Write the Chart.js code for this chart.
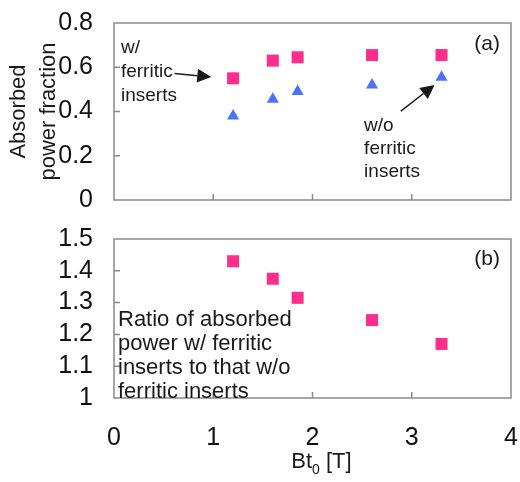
<!DOCTYPE html>
<html>
<head>
<meta charset="utf-8">
<script src="https://cdn.jsdelivr.net/npm/chart.js@4.4.1/dist/chart.umd.min.js"></script>
<style>
  body { margin: 0; background: #fff; }
  #wrap { position: relative; width: 520px; height: 482px; }
  canvas { position: absolute; left: 0; }
</style>
</head>
<body>
<div id="wrap">
  <canvas id="top" width="520" height="210" style="top:0"></canvas>
  <canvas id="bottom" width="520" height="272" style="top:210px"></canvas>
</div>
<script>
// Bt0 [T]
const bt = [1.2, 1.6, 1.85, 2.6, 3.3];
// absorbed power fraction
const withFerritic = [0.55, 0.63, 0.645, 0.655, 0.655];
const withoutFerritic = [0.38, 0.455, 0.49, 0.52, 0.555];
// ratio w/ to w/o
const ratio = [1.43, 1.375, 1.315, 1.245, 1.17];

const xTicks = [0, 1, 2, 3, 4];
const fracTicks = [0, 0.2, 0.4, 0.6, 0.8];
const ratioTicks = [1, 1.1, 1.2, 1.3, 1.4, 1.5];

const pink = '#ff2d8c';
const blue = '#4d70ff';
const frame = '#8a8a8a';
const tickFont = { family: "'Liberation Sans Narrow', 'Liberation Sans', Arial", size: 25 };
const textFont = "'Liberation Sans', Arial, sans-serif";

function pts(xs, ys) {
    return xs.map((x, i) => ({ x: x, y: ys[i] }));
}

// frame box + short inward tick marks
const framePlugin = {
    id: 'frame',
    afterDraw(chart) {
        const ctx = chart.ctx;
        const a = chart.chartArea;
        const xs = chart.scales.x, ys = chart.scales.y;
        ctx.save();
        ctx.strokeStyle = frame;
        ctx.lineWidth = 1.5;
        ctx.strokeRect(a.left, a.top, a.right - a.left, a.bottom - a.top);
        ctx.beginPath();
        for (const t of xs.ticks) {
            const px = xs.getPixelForValue(t.value);
            if (px <= a.left + 1 || px >= a.right - 1) continue;
            ctx.moveTo(px, a.bottom);
            ctx.lineTo(px, a.bottom - 6);
        }
        for (const t of ys.ticks) {
            const py = ys.getPixelForValue(t.value);
            if (py <= a.top + 1 || py >= a.bottom - 1) continue;
            ctx.moveTo(a.left, py);
            ctx.lineTo(a.left + 6, py);
        }
        ctx.stroke();
        ctx.restore();
    }
};

function drawArrow(ctx, x1, y1, x2, y2) {
    const ang = Math.atan2(y2 - y1, x2 - x1);
    const hl = 14, hw = 7;
    const bx = x2 - hl * Math.cos(ang), by = y2 - hl * Math.sin(ang);
    ctx.beginPath();
    ctx.moveTo(x1, y1);
    ctx.lineTo(bx, by);
    ctx.stroke();
    ctx.beginPath();
    ctx.moveTo(x2, y2);
    ctx.lineTo(bx + hw * Math.sin(ang), by - hw * Math.cos(ang));
    ctx.lineTo(bx - hw * Math.sin(ang), by + hw * Math.cos(ang));
    ctx.closePath();
    ctx.fill();
}

function textLines(ctx, lines, x, y, step) {
    lines.forEach((l, i) => ctx.fillText(l, x, y + i * step));
}

const topNotes = {
    id: 'topNotes',
    afterDraw(chart) {
        const ctx = chart.ctx;
        const xs = chart.scales.x, ys = chart.scales.y;
        const a = chart.chartArea;
        ctx.save();
        ctx.fillStyle = '#1a1a1a';
        ctx.strokeStyle = '#1a1a1a';
        ctx.lineWidth = 1.5;
        ctx.textBaseline = 'middle';
        ctx.font = '19px ' + textFont;
        textLines(ctx, ['w/', 'ferritic', 'inserts'], xs.getPixelForValue(0.07), ys.getPixelForValue(0.69), 24);
        textLines(ctx, ['w/o', 'ferritic', 'inserts'], xs.getPixelForValue(2.52), ys.getPixelForValue(0.335), 23);
        drawArrow(ctx, xs.getPixelForValue(0.61), ys.getPixelForValue(0.572),
            xs.getPixelForValue(0.98), ys.getPixelForValue(0.556));
        drawArrow(ctx, xs.getPixelForValue(2.89), ys.getPixelForValue(0.402),
            xs.getPixelForValue(3.23), ys.getPixelForValue(0.52));
        ctx.font = '21px ' + textFont;
        ctx.textAlign = 'right';
        ctx.fillText('(a)', a.right - 11, a.top + 21);
        ctx.restore();
    }
};

const bottomNotes = {
    id: 'bottomNotes',
    afterDraw(chart) {
        const ctx = chart.ctx;
        const xs = chart.scales.x, ys = chart.scales.y;
        const a = chart.chartArea;
        ctx.save();
        ctx.fillStyle = '#1a1a1a';
        ctx.textBaseline = 'middle';
        ctx.font = '22px ' + textFont;
        textLines(ctx, ['Ratio of absorbed', 'power w/ ferritic', 'inserts to that w/o', 'ferritic inserts'],
            a.left + 4, ys.getPixelForValue(1.245), 24);
        ctx.font = '21px ' + textFont;
        ctx.textAlign = 'right';
        ctx.fillText('(b)', a.right - 11, a.top + 20);
        // x axis title with subscript
        const cx = xs.getPixelForValue(2.09);
        const ty = 252;
        ctx.textAlign = 'left';
        ctx.font = '22px ' + textFont;
        const w1 = ctx.measureText('Bt').width;
        ctx.font = '14px ' + textFont;
        const w2 = ctx.measureText('0').width;
        ctx.font = '22px ' + textFont;
        const w3 = ctx.measureText(' [T]').width;
        let x = cx - (w1 + w2 + w3) / 2;
        ctx.fillText('Bt', x, ty);
        ctx.font = '14px ' + textFont;
        ctx.fillText('0', x + w1, ty + 8);
        ctx.font = '22px ' + textFont;
        ctx.fillText(' [T]', x + w1 + w2, ty);
        ctx.restore();
    }
};

function tickLabel(v) {
    return String(Number(v.toFixed(1)));
}

function xScale(showLabels) {
    return {
        type: 'linear',
        min: 0, max: 4,
        display: showLabels,
        afterBuildTicks: s => { s.ticks = xTicks.map(v => ({ value: v })); },
        afterFit: s => {
            if (showLabels) s.height = 84;
            s.paddingLeft = 0; s.paddingRight = 0;
        },
        grid: { display: false, drawTicks: false },
        border: { display: false },
        ticks: { font: tickFont, color: '#111', padding: 25, maxRotation: 0, autoSkip: false, callback: tickLabel }
    };
}

function yScale(min, max, ticks, title) {
    return {
        type: 'linear',
        min: min, max: max,
        afterBuildTicks: s => { s.ticks = ticks.map(v => ({ value: v })); },
        afterFit: s => {
            s.width = 114;
            s.paddingTop = 0; s.paddingBottom = 0;
        },
        grid: { display: false, drawTicks: false },
        border: { display: false },
        ticks: { font: tickFont, color: '#111', padding: 21, autoSkip: false, callback: tickLabel },
        title: title ? {
            display: true,
            text: title,
            color: '#1a1a1a',
            font: { family: textFont, size: 22, lineHeight: 1.36 },
            padding: { top: 4, bottom: 0 }
        } : { display: false }
    };
}

const common = {
    responsive: false,
    animation: false,
    plugins: { legend: { display: false }, tooltip: { enabled: false } }
};

new Chart(document.getElementById('top'), {
    type: 'scatter',
    data: {
        datasets: [
            {
                label: 'w/ ferritic inserts',
                data: pts(bt, withFerritic),
                pointStyle: 'rect',
                pointRadius: 8.5,
                backgroundColor: pink,
                borderWidth: 0
            },
            {
                label: 'w/o ferritic inserts',
                data: pts(bt, withoutFerritic),
                pointStyle: 'triangle',
                pointRadius: 7,
                backgroundColor: blue,
                borderWidth: 0
            }
        ]
    },
    options: Object.assign({}, common, {
        layout: { padding: { top: 23, right: 9, bottom: 10, left: 0 } },
        scales: {
            x: xScale(false),
            y: yScale(0, 0.8, fracTicks, ['Absorbed', 'power fraction'])
        }
    }),
    plugins: [framePlugin, topNotes]
});

new Chart(document.getElementById('bottom'), {
    type: 'scatter',
    data: {
        datasets: [
            {
                label: 'ratio',
                data: pts(bt, ratio),
                pointStyle: 'rect',
                pointRadius: 8.5,
                backgroundColor: pink,
                borderWidth: 0
            }
        ]
    },
    options: Object.assign({}, common, {
        layout: { padding: { top: 29, right: 9, bottom: 0, left: 0 } },
        scales: {
            x: xScale(true),
            y: yScale(1, 1.5, ratioTicks, null)
        }
    }),
    plugins: [framePlugin, bottomNotes]
});
</script>
</body>
</html>
